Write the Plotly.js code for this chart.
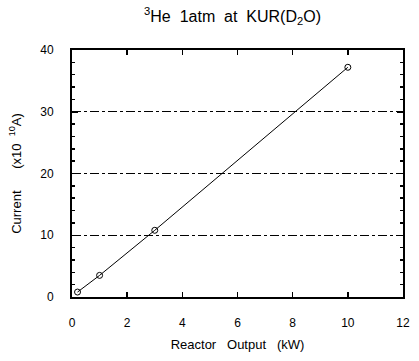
<!DOCTYPE html>
<html><head><meta charset="utf-8">
<script src="https://cdn.plot.ly/plotly-3.0.1.min.js"></script>
<style>html,body{margin:0;padding:0;background:#fff}</style>
</head><body>
<div id="chart" style="width:419px;height:361px"></div>
<script>
const reactorOutput = [0.2, 1.0, 3.0, 10.0];
const current = [0.8, 3.5, 10.8, 37.2];
const xTicks = [0, 2, 4, 6, 8, 10, 12];
const yTicks = [0, 10, 20, 30, 40];

const font = {family: 'Liberation Sans, Arial, sans-serif', color: '#000'};
Plotly.newPlot('chart', [{
  x: reactorOutput, y: current, type: 'scatter', mode: 'lines+markers',
  line: {color: '#000', width: 1},
  marker: {symbol: 'circle-open', size: 6, color: '#000', line: {width: 1}},
  showlegend: false
}], {
  width: 419, height: 361,
  margin: {l: 72, r: 16, t: 50, b: 64},
  paper_bgcolor: '#fff', plot_bgcolor: '#fff',
  font: Object.assign({size: 12}, font),
  title: {text: '<sup>3</sup>He  1atm  at  KUR(D<sub>2</sub>O)', x: 0.555, xanchor: 'center', y: 0.955, yanchor: 'middle', font: Object.assign({size: 16}, font)},
  xaxis: {
    range: [0, 12], tickvals: xTicks, ticktext: xTicks.map(String),
    ticks: 'inside', ticklen: 5, tickwidth: 1.5, tickcolor: '#000',
    showline: true, linecolor: '#000', linewidth: 2, mirror: 'allticks',
    showgrid: false, zeroline: false, ticklabelstandoff: 14,
    tickfont: Object.assign({size: 12}, font),
    title: {text: 'Reactor   Output   (kW)', font: Object.assign({size: 13}, font), standoff: 10}
  },
  yaxis: {
    range: [0, 40], tickvals: yTicks, ticktext: yTicks.map(String),
    ticks: 'inside', ticklen: 6, tickwidth: 1.5, tickcolor: '#000',
    minor: {dtick: 2, ticks: 'inside', ticklen: 3, tickcolor: '#000', showgrid: false},
    showline: true, linecolor: '#000', linewidth: 2, mirror: 'allticks',
    showgrid: true, gridcolor: '#000', gridwidth: 1, griddash: 'dashdot',
    zeroline: false, ticklabelstandoff: 14,
    tickfont: Object.assign({size: 12}, font),
    title: {text: 'Current      (x10  <sup>10</sup>A)', font: Object.assign({size: 13}, font), standoff: 16}
  }
}, {displayModeBar: false, staticPlot: true});
</script>
</body></html>
